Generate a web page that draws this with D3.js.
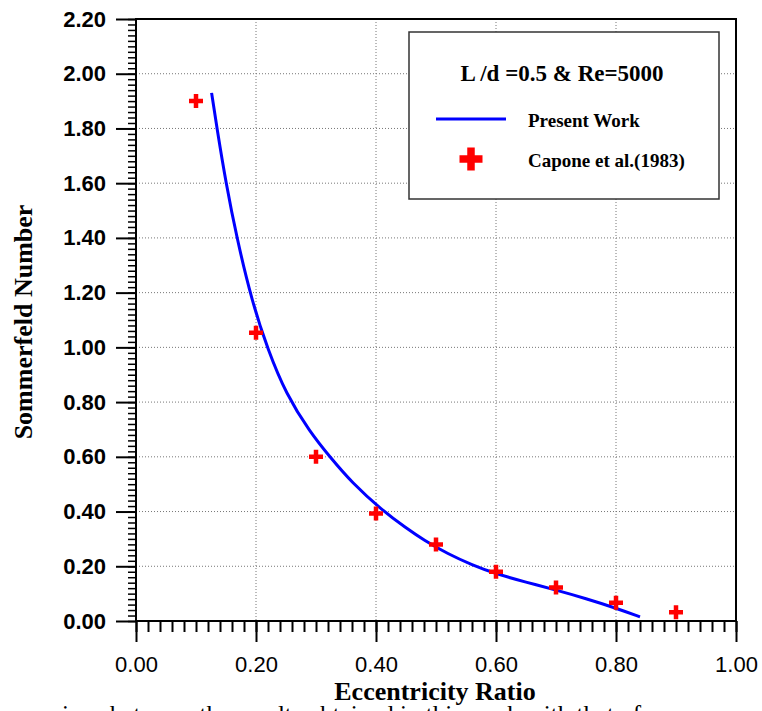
<!DOCTYPE html>
<html>
<head>
<meta charset="utf-8">
<script src="https://cdn.jsdelivr.net/npm/d3@7"></script>
<style>
  body { margin: 0; background: #fff; overflow: hidden; }
  svg { display: block; }
</style>
</head>
<body>
<div id="cont"></div>
<script>
// data
var workEcc = [0.126, 0.135, 0.15, 0.168, 0.193, 0.22, 0.25, 0.29, 0.323, 0.36, 0.41, 0.45, 0.48, 0.52, 0.56, 0.60, 0.65, 0.70, 0.75, 0.80, 0.84];
var workS   = [1.93, 1.80, 1.60, 1.40, 1.17, 0.99, 0.83, 0.69, 0.60, 0.505, 0.405, 0.34, 0.295, 0.245, 0.205, 0.172, 0.142, 0.113, 0.082, 0.047, 0.015];
var caponeEcc = [0.1, 0.2, 0.3, 0.4, 0.5, 0.6, 0.7, 0.8, 0.9];
var caponeS   = [1.90, 1.053, 0.60, 0.393, 0.28, 0.18, 0.122, 0.067, 0.032];
var xTicks = [0, 0.2, 0.4, 0.6, 0.8, 1.0];
var yTicks = [0, 0.2, 0.4, 0.6, 0.8, 1.0, 1.2, 1.4, 1.6, 1.8, 2.0, 2.2];

var serif = "'Liberation Serif', 'Times New Roman', serif";
var sans = "'Liberation Sans', Arial, sans-serif";

var W = 762, H = 711;
var pLeft = 136, pRight = 736, pTop = 19, pBottom = 621;

var svg = d3.select("#cont").append("svg")
    .attr("width", W)
    .attr("height", H);

var x = d3.scaleLinear().domain([0, 1]).range([pLeft, pRight]);
var y = d3.scaleLinear().domain([0, 2.2]).range([pBottom, pTop]);

// grid
svg.append("g").selectAll("line").data(xTicks.slice(1, -1)).enter().append("line")
    .attr("x1", d => x(d)).attr("x2", d => x(d))
    .attr("y1", pTop).attr("y2", pBottom)
    .attr("stroke", "#777").attr("stroke-width", 1).attr("stroke-dasharray", "1,2");
svg.append("g").selectAll("line").data(yTicks.slice(1, -1)).enter().append("line")
    .attr("x1", pLeft).attr("x2", pRight)
    .attr("y1", d => y(d)).attr("y2", d => y(d))
    .attr("stroke", "#777").attr("stroke-width", 1).attr("stroke-dasharray", "1,2");

// minor ticks
var xMinor = d3.range(0, 51).map(i => i / 50);
var yMinor = d3.range(0, 111).map(i => i / 50);

var xAxis = svg.append("g")
    .attr("transform", "translate(0," + pBottom + ")");
xAxis.call(d3.axisBottom(x).tickValues(xMinor).tickSize(11).tickFormat(""));
xAxis.call(g => g.select(".domain").remove());
xAxis.selectAll("line").attr("stroke", "#000").attr("stroke-width", 2);

var xMajor = svg.append("g")
    .attr("transform", "translate(0," + pBottom + ")")
    .call(d3.axisBottom(x).tickValues(xTicks).tickSize(21).tickPadding(14).tickFormat(d3.format(".2f")));
xMajor.select(".domain").remove();
xMajor.selectAll("line").attr("stroke", "#000").attr("stroke-width", 2);
xMajor.selectAll("text")
    .attr("font-family", sans).attr("font-size", 22).attr("fill", "#000");

var yAxis = svg.append("g")
    .attr("transform", "translate(" + pLeft + ",0)");
yAxis.call(d3.axisLeft(y).tickValues(yMinor).tickSize(8).tickFormat(""));
yAxis.select(".domain").remove();
yAxis.selectAll("line").attr("stroke", "#000").attr("stroke-width", 1.5);

var yMajor = svg.append("g")
    .attr("transform", "translate(" + pLeft + ",0)")
    .call(d3.axisLeft(y).tickValues(yTicks).tickSize(20).tickPadding(10).tickFormat(d3.format(".2f")));
yMajor.select(".domain").remove();
yMajor.selectAll("line").attr("stroke", "#000").attr("stroke-width", 2);
yMajor.selectAll("text")
    .attr("font-family", sans).attr("font-size", 22).attr("font-weight", "bold").attr("fill", "#000");

// frame
svg.append("rect")
    .attr("x", pLeft).attr("y", pTop)
    .attr("width", pRight - pLeft).attr("height", pBottom - pTop)
    .attr("fill", "none").attr("stroke", "#000").attr("stroke-width", 2);

// present work curve
var line = d3.line()
    .x(d => x(d[0]))
    .y(d => y(d[1]))
    .curve(d3.curveBasis);

svg.append("path")
    .datum(d3.zip(workEcc, workS))
    .attr("d", line)
    .attr("fill", "none")
    .attr("stroke", "#0000ff")
    .attr("stroke-width", 3);

// plus markers
function plus(sel, size, thick) {
    var h = size / 2, t = thick / 2;
    sel.attr("d", "M" + (-h) + "," + (-t) + "H" + (-t) + "V" + (-h) + "H" + t + "V" + (-t) + "H" + h +
        "V" + t + "H" + t + "V" + h + "H" + (-t) + "V" + t + "H" + (-h) + "Z")
        .attr("fill", "#ff0000");
}

svg.append("g").selectAll("path").data(d3.zip(caponeEcc, caponeS)).enter().append("path")
    .attr("transform", d => "translate(" + x(d[0]) + "," + y(d[1]) + ")")
    .call(plus, 14, 4.5);

// legend
var lg = svg.append("g");
lg.append("rect")
    .attr("x", 409).attr("y", 32).attr("width", 310).attr("height", 167)
    .attr("fill", "#fff").attr("stroke", "#333").attr("stroke-width", 1.5);
lg.append("text")
    .attr("x", 562).attr("y", 81).attr("text-anchor", "middle")
    .attr("font-family", serif).attr("font-weight", "bold").attr("font-size", 23)
    .text("L /d =0.5 & Re=5000");
lg.append("line")
    .attr("x1", 436).attr("x2", 506).attr("y1", 119).attr("y2", 119)
    .attr("stroke", "#0000ff").attr("stroke-width", 3);
lg.append("text")
    .attr("x", 528).attr("y", 127)
    .attr("font-family", serif).attr("font-weight", "bold").attr("font-size", 19)
    .text("Present Work");
lg.append("path")
    .attr("transform", "translate(471,159)")
    .call(plus, 23, 7.5);
lg.append("text")
    .attr("x", 528).attr("y", 167)
    .attr("font-family", serif).attr("font-weight", "bold").attr("font-size", 19)
    .text("Capone et al.(1983)");

// axis titles
svg.append("text")
    .attr("x", 435).attr("y", 700).attr("text-anchor", "middle")
    .attr("font-family", serif).attr("font-weight", "bold").attr("font-size", 26)
    .text("Eccentricity Ratio");
svg.append("text")
    .attr("transform", "translate(32,322) rotate(-90)")
    .attr("text-anchor", "middle")
    .attr("font-family", serif).attr("font-weight", "bold").attr("font-size", 26)
    .text("Sommerfeld Number");

// caption cut off at the page bottom
svg.append("text")
    .attr("x", 62).attr("y", 723)
    .attr("font-family", serif).attr("font-size", 25)
    .text("ison between the results obtained in this work with that of");
</script>
</body>
</html>
